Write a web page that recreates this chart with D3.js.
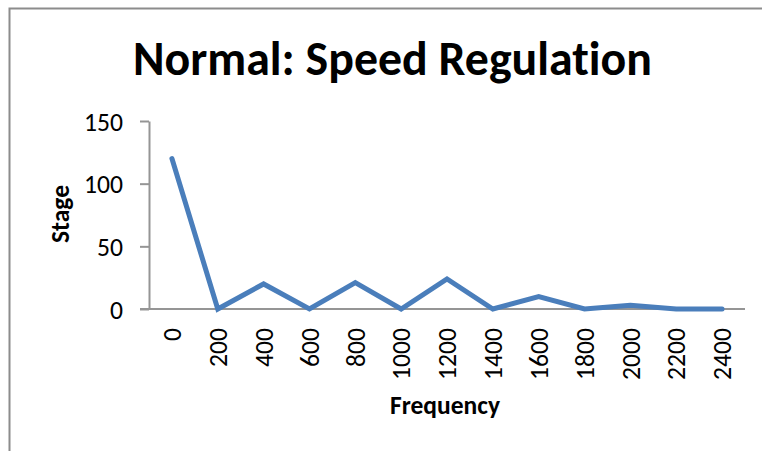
<!DOCTYPE html>
<html>
<head>
<meta charset="utf-8">
<script src="https://cdn.jsdelivr.net/npm/d3@7"></script>
<style>
  html, body { margin: 0; padding: 0; background: #fff; }
  svg { display: block; }
  text { font-family: Carlito, Lato, "Open Sans", sans-serif; fill: #000; font-variant-ligatures: none; }
</style>
</head>
<body>
<svg id="chart" width="762" height="451"></svg>
<script>
// Frequency categories and the measured stage values
const frequencies = ["0", "200", "400", "600", "800", "1000", "1200", "1400", "1600", "1800", "2000", "2200", "2400"];
const stageValues = [120, 0, 20, 0, 21, 0, 24, 0, 10, 0, 3, 0, 0];
const yTicks = [0, 50, 100, 150];

const titleText = "Normal: Speed Regulation";
const xTitle = "Frequency";
const yTitle = "Stage";

const width = 762, height = 451;
const plot = { left: 149, right: 745, top: 121, bottom: 309 };

const svg = d3.select("#chart");

// Chart frame (top and left edges)
svg.append("path")
  .attr("d", `M9.5,451 V8.5 H762`)
  .attr("fill", "none")
  .attr("stroke", "#8c8c8c")
  .attr("stroke-width", 2);

const x = d3.scaleBand()
  .domain(frequencies)
  .range([plot.left, plot.right])
  .padding(0);

const y = d3.scaleLinear()
  .domain([0, 150])
  .range([plot.bottom, plot.top]);

// Tick label size: three digits span about 39px
const probe = svg.append("text").style("font-size", "20px").text("150");
const tickFont = (20 * 39 / probe.node().getComputedTextLength()).toFixed(2) + "px";
probe.remove();

// Y axis
const yAxis = svg.append("g")
  .attr("transform", `translate(${plot.left},0)`)
  .call(d3.axisLeft(y).tickValues(yTicks).tickSize(9).tickPadding(17).tickSizeOuter(0));
yAxis.select(".domain").attr("stroke", "#959595").attr("stroke-width", 2);
yAxis.selectAll(".tick line").attr("stroke", "#959595").attr("stroke-width", 2);
yAxis.selectAll(".tick text")
  .style("font-size", tickFont)
  .attr("dy", "0.36em");

// X axis
const xAxis = svg.append("g")
  .attr("transform", `translate(0,${plot.bottom})`)
  .call(d3.axisBottom(x).tickSize(0).tickSizeOuter(0));
xAxis.select(".domain")
  .attr("d", `M${plot.left - 9},0H${plot.right}`)
  .attr("stroke", "#959595").attr("stroke-width", 2);
xAxis.selectAll(".tick text")
  .style("font-size", tickFont)
  .attr("text-anchor", "end")
  .attr("transform", "rotate(-90)")
  .attr("x", -19)
  .attr("y", 0)
  .attr("dy", "0.36em");

// Data line
const line = d3.line()
  .x((d, i) => x(frequencies[i]) + x.bandwidth() / 2)
  .y(d => y(d));

svg.append("path")
  .datum(stageValues)
  .attr("d", line)
  .attr("fill", "none")
  .attr("stroke", "#4a7ebb")
  .attr("stroke-width", 5)
  .attr("stroke-linejoin", "miter")
  .attr("stroke-linecap", "round");

// Title
const title = svg.append("text")
  .attr("x", 392.5)
  .attr("y", 75)
  .attr("text-anchor", "middle")
  .style("font-weight", "bold")
  .style("font-size", "33px")
  .text(titleText);
const tw = title.node().getComputedTextLength();
title.style("font-size", (33 * 519 / tw).toFixed(2) + "px");

// Axis titles
const xt = svg.append("text")
  .attr("x", 445)
  .attr("y", 414)
  .attr("text-anchor", "middle")
  .style("font-weight", "bold")
  .style("font-size", "20px")
  .text(xTitle);
xt.style("font-size", (20 * 110 / xt.node().getComputedTextLength()).toFixed(2) + "px");

const yt = svg.append("text")
  .attr("transform", "translate(69,214) rotate(-90)")
  .attr("text-anchor", "middle")
  .style("font-weight", "bold")
  .style("font-size", "20px")
  .text(yTitle);
yt.style("font-size", (20 * 58 / yt.node().getComputedTextLength()).toFixed(2) + "px");
</script>
</body>
</html>
